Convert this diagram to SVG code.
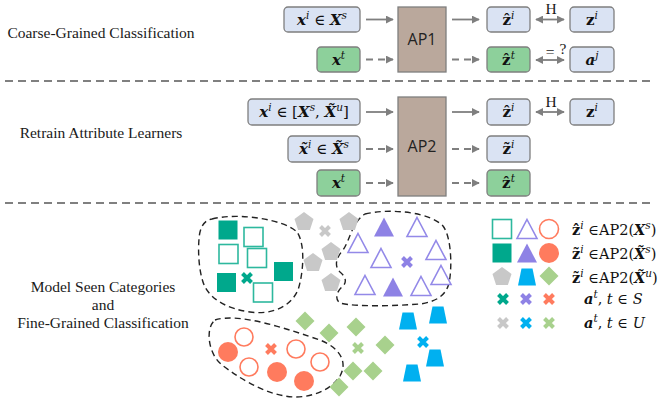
<svg xmlns="http://www.w3.org/2000/svg" xmlns:xlink="http://www.w3.org/1999/xlink" width="659" height="407" viewBox="0 0 659 407">
<style>
.lbl{font-family:"Liberation Serif",serif;font-size:15.5px;fill:#1a1a1a;text-anchor:middle}
.box{fill:#DAE3F3;stroke:#7F7F7F;stroke-width:1.3}
.gbox{fill:#8DD09B;stroke:#7F7F7F;stroke-width:1.3}
.ap{fill:#BAA89C;stroke:#7F7F7F;stroke-width:1.3}
.apt{font-family:"Open Sans","Liberation Sans",sans-serif;font-size:16px;fill:#222;text-anchor:middle}
.m{font-family:"DejaVu Serif",serif;font-size:15px;fill:#111;text-anchor:middle}
.lg{font-family:"DejaVu Serif",serif;font-size:14.5px;fill:#111}
.bi{font-weight:bold;font-style:italic}
.b{font-weight:bold}
.it{font-style:italic}
.sp{font-size:10.5px;font-style:italic}
.sep{stroke:#808080;stroke-width:2;stroke-dasharray:8 5;fill:none}
.ar{stroke:#7F7F7F;stroke-width:1.8;fill:none;marker-end:url(#ah)}
.da{stroke:#7F7F7F;stroke-width:1.8;fill:none;stroke-dasharray:7 5;marker-end:url(#ah)}
.dbl{stroke:#7F7F7F;stroke-width:1.8;fill:none;marker-end:url(#ah);marker-start:url(#ah)}
.clu{fill:none;stroke:#222;stroke-width:1.4;stroke-dasharray:6 4}
.teal{fill:#00A88C}
.hteal{fill:#fff;stroke:#2DB89E;stroke-width:1.6}
.pur{fill:#8E82E5}
.hpur{fill:#fff;stroke:#9389E8;stroke-width:1.6}
.org{fill:#FF7B5E}
.horg{fill:#fff;stroke:#FF7B5E;stroke-width:1.6}
.gry{fill:#C8C8C8}
.blu{fill:#00B0F0}
.grn{fill:#A8D18D}
.x{fill:none;stroke-width:4}
</style>
<defs>
<marker id="ah" viewBox="0 0 10 10" refX="9" refY="5" markerWidth="8" markerHeight="8" markerUnits="userSpaceOnUse" orient="auto-start-reverse">
<path d="M0,0 L10,5 L0,10 z" fill="#7F7F7F"/>
</marker>
<rect id="sq" x="-9.5" y="-9.5" width="19" height="19"/>
<polygon id="tri" points="0,-9.5 10,9.5 -10,9.5"/>
<polygon id="pent" points="0,-10 9.5,-3.1 5.9,8.1 -5.9,8.1 -9.5,-3.1"/>
<polygon id="dia" points="0,-9.5 9.5,0 0,9.5 -9.5,0"/>
<polygon id="trap" points="-5.5,-8.5 5.5,-8.5 9,8.5 -9,8.5"/>
<path id="cr" d="M-4.5,-4.5 L4.5,4.5 M4.5,-4.5 L-4.5,4.5"/>
</defs>
<rect width="659" height="407" fill="#fff"/>

<!-- section labels -->
<text class="lbl" x="101" y="38">Coarse-Grained Classification</text>
<text class="lbl" x="101" y="138">Retrain Attribute Learners</text>
<text class="lbl" x="103" y="292">Model Seen Categories</text>
<text class="lbl" x="103" y="310">and</text>
<text class="lbl" x="103" y="328">Fine-Grained Classification</text>

<!-- separators -->
<line class="sep" x1="5" y1="81" x2="655" y2="81"/>
<line class="sep" x1="5" y1="203" x2="655" y2="203"/>

<!-- connectors -->
<g id="connectors">
<line class="ar" x1="366" y1="19.5" x2="393" y2="19.5"/>
<line class="ar" x1="452" y1="19.5" x2="479" y2="19.5"/>
<line class="dbl" x1="536" y1="19.5" x2="564" y2="19.5"/>
<line class="da" x1="366" y1="59.5" x2="393" y2="59.5"/>
<line class="da" x1="452" y1="59.5" x2="479" y2="59.5"/>
<line class="dbl" x1="536" y1="60" x2="564" y2="60"/>
<line class="ar" x1="366" y1="112" x2="393" y2="112"/>
<line class="ar" x1="452" y1="112" x2="479" y2="112"/>
<line class="dbl" x1="536" y1="112" x2="564" y2="112"/>
<line class="da" x1="366" y1="149" x2="393" y2="149"/>
<line class="da" x1="452" y1="149" x2="479" y2="149"/>
<line class="da" x1="366" y1="183" x2="393" y2="183"/>
<line class="da" x1="452" y1="183" x2="479" y2="183"/>
<text class="lbl" x="551" y="14" font-size="14">H</text>
<text class="lbl" x="550" y="57" font-size="17">=</text>
<text class="lbl" x="563" y="54" font-size="14">?</text>
<text class="lbl" x="551" y="107" font-size="14">H</text>
</g>

<!-- top section nodes -->
<g id="n_xi_s"><rect class="box" x="284" y="7" width="76" height="25" rx="4"/>
<text class="m" x="322" y="25"><tspan class="bi">x</tspan><tspan class="sp" dy="-6">i</tspan><tspan dy="6"> ∈ </tspan><tspan class="bi">X</tspan><tspan class="sp" dy="-6">s</tspan></text></g>
<g id="n_xt1"><rect class="gbox" x="317" y="47" width="43" height="25" rx="4"/>
<text class="m" x="338.5" y="65"><tspan class="bi">x</tspan><tspan class="sp" dy="-6">t</tspan></text></g>
<g id="n_ap1"><rect class="ap" x="398" y="7" width="48" height="65"/>
<text class="apt" x="422" y="45">AP1</text></g>
<g id="n_zhat1"><rect class="box" x="487" y="7" width="43" height="25" rx="4"/>
<text class="m" x="508.5" y="25"><tspan class="b">ẑ</tspan><tspan class="sp" dy="-6">i</tspan></text></g>
<g id="n_zt1"><rect class="gbox" x="487" y="47" width="43" height="25" rx="4"/>
<text class="m" x="508.5" y="65"><tspan class="b">ẑ</tspan><tspan class="sp" dy="-6">t</tspan></text></g>
<g id="n_z1"><rect class="box" x="570" y="7" width="44" height="25" rx="4"/>
<text class="m" x="592" y="25"><tspan class="b">z</tspan><tspan class="sp" dy="-6">i</tspan></text></g>
<g id="n_aj"><rect class="box" x="570" y="47" width="44" height="25" rx="4"/>
<text class="m" x="592" y="65"><tspan class="bi">a</tspan><tspan class="sp" dy="-6">j</tspan></text></g>

<!-- middle section nodes -->
<g id="n_xi_mix"><rect class="box" x="248" y="99" width="112" height="26" rx="4"/>
<text class="m" x="304" y="117"><tspan class="bi">x</tspan><tspan class="sp" dy="-6">i</tspan><tspan dy="6"> ∈ [</tspan><tspan class="bi">X</tspan><tspan class="sp" dy="-6">s</tspan><tspan dy="6">, </tspan><tspan class="bi">X̃</tspan><tspan class="sp" dy="-6">u</tspan><tspan dy="6">]</tspan></text></g>
<g id="n_xtil"><rect class="box" x="288" y="136" width="72" height="26" rx="4"/>
<text class="m" x="324" y="154"><tspan class="bi">x̃</tspan><tspan class="sp" dy="-6">i</tspan><tspan dy="6"> ∈ </tspan><tspan class="bi">X̃</tspan><tspan class="sp" dy="-6">s</tspan></text></g>
<g id="n_xt2"><rect class="gbox" x="317" y="170" width="43" height="26" rx="4"/>
<text class="m" x="338.5" y="188"><tspan class="bi">x</tspan><tspan class="sp" dy="-6">t</tspan></text></g>
<g id="n_ap2"><rect class="ap" x="398" y="97" width="48" height="99"/>
<text class="apt" x="422" y="152">AP2</text></g>
<g id="n_zhat2"><rect class="box" x="487" y="99" width="43" height="26" rx="4"/>
<text class="m" x="508.5" y="117"><tspan class="b">ẑ</tspan><tspan class="sp" dy="-6">i</tspan></text></g>
<g id="n_z2"><rect class="box" x="570" y="99" width="44" height="26" rx="4"/>
<text class="m" x="592" y="117"><tspan class="b">z</tspan><tspan class="sp" dy="-6">i</tspan></text></g>
<g id="n_ztil"><rect class="box" x="487" y="136" width="43" height="26" rx="4"/>
<text class="m" x="508.5" y="154"><tspan class="b">z̃</tspan><tspan class="sp" dy="-6">i</tspan></text></g>
<g id="n_zt2"><rect class="gbox" x="487" y="170" width="43" height="26" rx="4"/>
<text class="m" x="508.5" y="188"><tspan class="b">ẑ</tspan><tspan class="sp" dy="-6">t</tspan></text></g>

<!-- scatter -->
<g id="clusters">
<path class="clu" d="M212,219 C240,212 285,220 297,232 C306,245 303,275 298,290 C290,308 270,315 250,312 C228,309 212,300 205,287 C197,270 198,240 200,232 C202,224 206,220 212,219 Z"/>
<path class="clu" d="M365,214 C390,208 430,212 443,226 C452,238 452,270 449,283 C446,296 435,302 420,304 C395,306 355,307 340,303 C335,300 336,292 342,287 C348,282 345,276 340,272 C334,266 336,258 343,250 C350,240 352,222 365,214 Z"/>
<path class="clu" d="M215,320 C240,312 290,330 320,340 C340,348 348,362 340,376 C330,392 305,400 285,396 C260,392 235,375 222,365 C208,354 205,328 215,320 Z"/>
</g>
<g id="teal_points">
<use href="#sq" class="teal" x="228" y="230"/>
<use href="#sq" class="hteal" x="253.5" y="237"/>
<use href="#sq" class="hteal" x="228.5" y="254"/>
<use href="#sq" class="hteal" x="257" y="258"/>
<use href="#sq" class="teal" x="283.5" y="271.5"/>
<use href="#sq" class="teal" x="226.5" y="282.5"/>
<use href="#cr" class="x" stroke="#00A88C" x="247" y="278"/>
<use href="#sq" class="hteal" x="263" y="292.5"/>
</g>
<g id="gray_points">
<use href="#pent" class="gry" x="304" y="222"/>
<use href="#pent" class="gry" x="349" y="222"/>
<use href="#pent" class="gry" x="331" y="252"/>
<use href="#pent" class="gry" x="313" y="263"/>
<use href="#pent" class="gry" x="331" y="283"/>
<use href="#cr" class="x" stroke="#C8C8C8" x="325" y="231"/>
</g>
<g id="purple_points">
<use href="#tri" class="pur" x="384" y="227"/>
<use href="#tri" class="hpur" x="417" y="227"/>
<use href="#tri" class="hpur" x="358" y="243"/>
<use href="#tri" class="hpur" x="381" y="258"/>
<use href="#tri" class="hpur" x="436" y="250"/>
<use href="#tri" class="hpur" x="441" y="275"/>
<use href="#tri" class="hpur" x="365" y="285"/>
<use href="#tri" class="pur" x="393" y="287"/>
<use href="#tri" class="hpur" x="421" y="286"/>
<use href="#cr" class="x" stroke="#8E82E5" x="407" y="262"/>
</g>
<g id="blue_points">
<use href="#trap" class="blu" x="408" y="321"/>
<use href="#trap" class="blu" x="438" y="315"/>
<use href="#trap" class="blu" x="435" y="358"/>
<use href="#trap" class="blu" x="412" y="373"/>
<use href="#cr" class="x" stroke="#00B0F0" x="423" y="342"/>
</g>
<g id="green_points">
<use href="#dia" class="grn" x="305" y="321"/>
<use href="#dia" class="grn" x="329" y="333"/>
<use href="#dia" class="grn" x="356" y="327"/>
<use href="#dia" class="grn" x="385" y="345"/>
<use href="#dia" class="grn" x="353" y="371"/>
<use href="#dia" class="grn" x="373" y="371"/>
<use href="#dia" class="grn" x="339" y="387"/>
<use href="#cr" class="x" stroke="#A8D18D" x="358" y="348"/>
</g>
<g id="orange_points">
<circle class="horg" cx="244" cy="337" r="9"/>
<circle class="org" cx="228" cy="352" r="10"/>
<circle class="horg" cx="249" cy="367" r="9"/>
<circle class="horg" cx="296" cy="349" r="9"/>
<circle class="horg" cx="320" cy="362" r="9"/>
<circle class="org" cx="277" cy="372" r="10"/>
<circle class="org" cx="304" cy="381" r="10"/>
<use href="#cr" class="x" stroke="#FF7B5E" x="271" y="349"/>
</g>

<!-- legend -->
<g id="legend">
<use href="#sq" class="hteal" x="502" y="229"/>
<use href="#tri" class="hpur" x="527" y="229"/>
<circle class="horg" cx="549" cy="229" r="9.5"/>
<use href="#sq" class="teal" x="502" y="253"/>
<use href="#tri" class="pur" x="527" y="253"/>
<circle class="org" cx="549" cy="253" r="10"/>
<use href="#pent" class="gry" x="502" y="277"/>
<use href="#trap" class="blu" x="527" y="277"/>
<use href="#dia" class="grn" x="549" y="276"/>
<use href="#cr" class="x" stroke="#00A88C" x="503" y="299"/>
<use href="#cr" class="x" stroke="#8E82E5" x="526" y="299"/>
<use href="#cr" class="x" stroke="#FF7B5E" x="549" y="299"/>
<use href="#cr" class="x" stroke="#C8C8C8" x="503" y="323"/>
<use href="#cr" class="x" stroke="#00B0F0" x="526" y="323"/>
<use href="#cr" class="x" stroke="#A8D18D" x="549" y="323"/>
<text class="lg" x="572" y="235"><tspan class="b">ẑ</tspan><tspan class="sp" dy="-6">i</tspan><tspan dy="6"> ∈AP2(</tspan><tspan class="bi">X</tspan><tspan class="sp" dy="-6">s</tspan><tspan dy="6">)</tspan></text>
<text class="lg" x="572" y="259"><tspan class="b">z̃</tspan><tspan class="sp" dy="-6">i</tspan><tspan dy="6"> ∈AP2(</tspan><tspan class="bi">X̃</tspan><tspan class="sp" dy="-6">s</tspan><tspan dy="6">)</tspan></text>
<text class="lg" x="572" y="283"><tspan class="b">z̃</tspan><tspan class="sp" dy="-6">i</tspan><tspan dy="6"> ∈AP2(</tspan><tspan class="bi">X̃</tspan><tspan class="sp" dy="-6">u</tspan><tspan dy="6">)</tspan></text>
<text class="lg" x="584" y="304"><tspan class="bi">a</tspan><tspan class="sp" dy="-6">t</tspan><tspan dy="6">, </tspan><tspan class="it">t</tspan> ∈ <tspan class="it">S</tspan></text>
<text class="lg" x="584" y="328"><tspan class="bi">a</tspan><tspan class="sp" dy="-6">t</tspan><tspan dy="6">, </tspan><tspan class="it">t</tspan> ∈ <tspan class="it">U</tspan></text>
</g>
</svg>
